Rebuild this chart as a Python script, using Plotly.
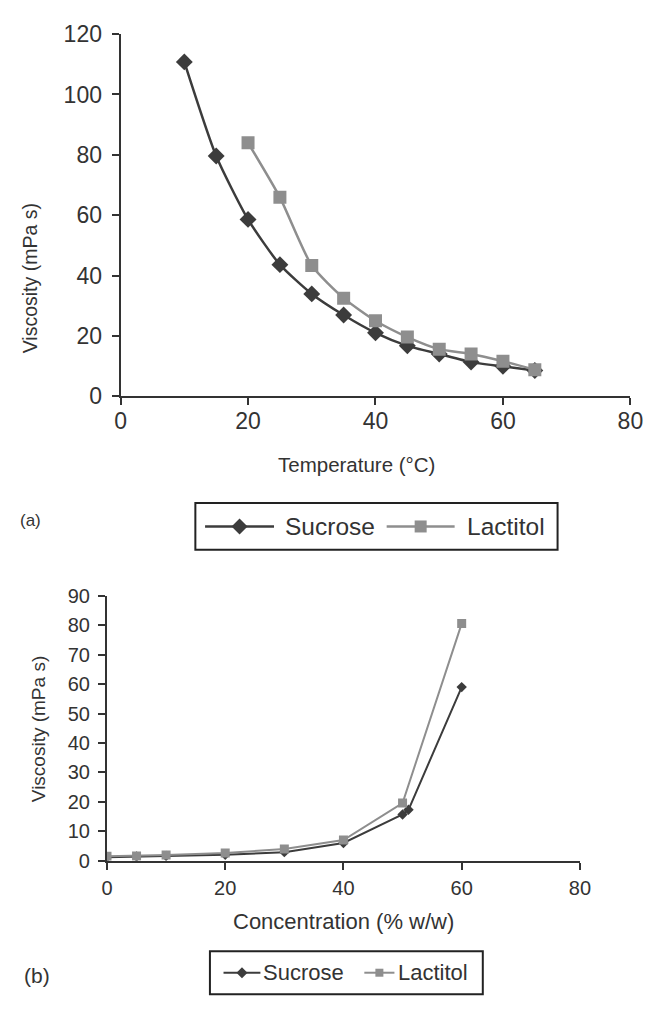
import plotly.graph_objects as go

# Panel (a): viscosity vs temperature
temp_c = [10, 15, 20, 25, 30, 35, 40, 45, 50, 55, 60, 65]
sucrose_temp_visc = [110.8, 79.6, 58.6, 43.6, 33.9, 26.9, 21.0, 16.7, 14.0, 11.3, 9.9, 8.5]
lactitol_temp = [20, 25, 30, 35, 40, 45, 50, 55, 60, 65]
lactitol_temp_visc = [84.0, 65.9, 43.3, 32.5, 25.0, 19.6, 15.6, 14.0, 11.6, 8.8]

# Panel (b): viscosity vs concentration
sucrose_conc = [0, 5, 10, 20, 30, 40, 50, 51, 60]
sucrose_conc_visc = [1.2, 1.4, 1.6, 2.0, 2.9, 6.0, 15.7, 17.3, 59.0]
lactitol_conc = [0, 5, 10, 20, 30, 40, 50, 60]
lactitol_conc_visc = [1.5, 1.6, 1.9, 2.6, 4.0, 7.0, 19.6, 80.6]

series_names = ["Sucrose", "Lactitol"]
panel_labels = ["(a)", "(b)"]

W, H = 657, 1013
FONT = "Liberation Sans, Arial, sans-serif"
TXT = "#333333"
AX = "#333333"
SUC = "#3c3c3c"
LAC = "#8e8e8e"


def px(x):
    return x / W


def py(y):
    return 1 - y / H


fig = go.Figure()

# (a) curves
fig.add_trace(go.Scatter(
    x=temp_c, y=sucrose_temp_visc, mode="lines+markers", name=series_names[0],
    line=dict(color=SUC, width=2.5, shape="spline", smoothing=0.6),
    marker=dict(symbol="diamond", size=13, color=SUC),
    xaxis="x", yaxis="y", showlegend=False))
fig.add_trace(go.Scatter(
    x=lactitol_temp, y=lactitol_temp_visc, mode="lines+markers", name=series_names[1],
    line=dict(color=LAC, width=2.5, shape="spline", smoothing=0.6),
    marker=dict(symbol="square", size=13, color=LAC),
    xaxis="x", yaxis="y", showlegend=False))

# (b) curves
fig.add_trace(go.Scatter(
    x=sucrose_conc, y=sucrose_conc_visc, mode="lines+markers", name=series_names[0],
    line=dict(color=SUC, width=2),
    marker=dict(symbol="diamond", size=8, color=SUC),
    xaxis="x2", yaxis="y2", showlegend=False))
fig.add_trace(go.Scatter(
    x=lactitol_conc, y=lactitol_conc_visc, mode="lines+markers", name=series_names[1],
    line=dict(color=LAC, width=2),
    marker=dict(symbol="square", size=9, color=LAC),
    xaxis="x2", yaxis="y2", showlegend=False))


def axis(domain, rng, ticks, anchor, size, standoff):
    return dict(
        domain=domain, range=rng, tickvals=ticks, anchor=anchor,
        showgrid=False, zeroline=False, showline=True, linecolor=AX, linewidth=2,
        ticks="outside", ticklen=7, tickwidth=2, tickcolor=AX,
        ticklabelstandoff=standoff,
        tickfont=dict(family=FONT, size=size, color=TXT),
    )


fig.update_layout(
    width=W, height=H,
    margin=dict(l=0, r=0, t=0, b=0),
    paper_bgcolor="white", plot_bgcolor="white",
    font=dict(family=FONT, color=TXT),
    xaxis=axis([px(118), px(643)], [0, 80], [0, 20, 40, 60, 80], "y", 23, -4),
    yaxis=axis([py(393.3), py(21.7)], [0, 120], [0, 20, 40, 60, 80, 100, 120], "x", 23, 5),
    xaxis2=axis([px(104), px(591)], [0, 80], [0, 20, 40, 60, 80], "y2", 20, 1),
    yaxis2=axis([py(870), py(598.3)], [0, 90], list(range(0, 100, 10)), "x2", 20, 4),
)

ann = []


def text(x, y, s, size, angle=0, xanchor="center"):
    ann.append(dict(x=px(x), y=py(y), xref="paper", yref="paper", text=s, showarrow=False,
                    textangle=angle, xanchor=xanchor, yanchor="middle",
                    font=dict(family=FONT, size=size, color=TXT)))


# axis titles
text(25, 272, "Viscosity (mPa s)", 19.5, angle=-90)
text(361, 463, "Temperature (°C)", 20.5)
text(33, 735, "Viscosity (mPa s)", 19, angle=-90)
text(348, 932, "Concentration (% w/w)", 22)

# panel labels
text(25, 521, panel_labels[0], 17)
text(32, 988, panel_labels[1], 21)

shapes = []


def legend(box, items, font_size, line_w):
    x0, y0, x1, y1 = box
    shapes.append(dict(type="rect", xref="paper", yref="paper", x0=px(x0), x1=px(x1),
                       y0=py(y1), y1=py(y0), line=dict(color="#222222", width=2),
                       fillcolor="rgba(0,0,0,0)"))
    yc = (y0 + y1) / 2
    for name, color, symbol, lx0, lx1, msize, tx in items:
        shapes.append(dict(type="line", xref="paper", yref="paper", x0=px(lx0), x1=px(lx1),
                           y0=py(yc), y1=py(yc), line=dict(color=color, width=line_w)))
        mx = (lx0 + lx1) / 2
        r = msize / 2
        if symbol == "diamond":
            path = f"M{-r},0 L0,{r} L{r},0 L0,{-r} Z"
        else:
            path = f"M{-r},{-r} L{r},{-r} L{r},{r} L{-r},{r} Z"
        shapes.append(dict(type="path", xref="paper", yref="paper", xsizemode="pixel",
                           ysizemode="pixel", xanchor=px(mx), yanchor=py(yc), path=path,
                           fillcolor=color, line=dict(color=color, width=0)))
        text(tx, yc, name, font_size, xanchor="left")


legend((195, 503, 568, 551),
       [(series_names[0], SUC, "diamond", 205, 276, 16, 285),
        (series_names[1], LAC, "square", 392, 462, 12, 473)],
       24.5, 2.5)
legend((210, 963, 491, 1007),
       [(series_names[0], SUC, "diamond", 224, 262, 11, 263),
        (series_names[1], LAC, "square", 369, 400, 8, 402)],
       22, 2)

fig.update_layout(annotations=ann, shapes=shapes)
fig.write_html("out.html")
